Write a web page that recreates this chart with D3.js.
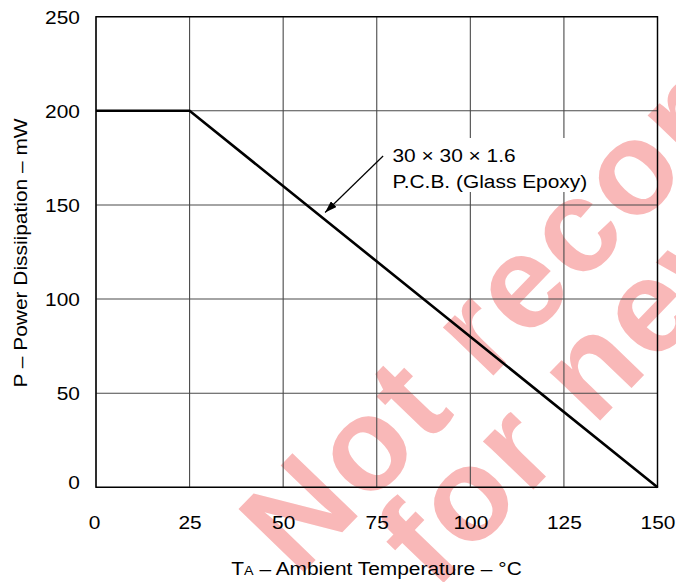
<!DOCTYPE html>
<html>
<head>
<meta charset="utf-8">
<script src="https://cdn.jsdelivr.net/npm/d3@7/dist/d3.min.js"></script>
<style>
  html, body { margin: 0; padding: 0; background: #fff; }
  svg { display: block; }
  text { font-family: "Liberation Sans", Arial, sans-serif; fill: #000; }
</style>
</head>
<body>
<svg id="chart" width="676" height="582"></svg>
<script>
// ---- data ----
const temps = [0, 25, 150];            // Ambient temperature, °C
const power = [200, 200, 0];           // Power dissipation, mW
const xTicks = [0, 25, 50, 75, 100, 125, 150];
const yTicks = [0, 50, 100, 150, 200, 250];
const noteLines = ["30 \u00d7 30 \u00d7 1.6", "P.C.B. (Glass Epoxy)"];
const arrowTail = [76.7, 176];         // data coords
const arrowTip = [61.2, 146];          // data coords
const watermark = ["Not recommended", "for new design"];

const svg = d3.select("#chart");
const x = d3.scaleLinear().domain([0, 150]).range([96, 657.5]);
const y = d3.scaleLinear().domain([0, 250]).range([487.3, 16.7]);
const SX = 1.1, FS = 19;

// ---- watermark ----
const wm = svg.append("g").attr("transform", "translate(721,140) rotate(-46)");
wm.selectAll("text").data(watermark).join("text")
  .attr("x", (d, i) => i * -30).attr("y", (d, i) => i * 108)
  .attr("text-anchor", "middle")
  .style("font-size", "132px").style("font-weight", "bold")
  .style("letter-spacing", "4px")
  .style("fill", "#f9b8b8")
  .text(d => d);

// ---- grid ----
const grid = svg.append("g");
grid.selectAll("line.v").data(xTicks).join("line").attr("class", "v")
  .attr("x1", d => x(d)).attr("x2", d => x(d))
  .attr("y1", y(0)).attr("y2", y(250))
  .attr("stroke", "#4a4a4a").attr("stroke-width", 1.1);
grid.selectAll("line.h").data(yTicks).join("line").attr("class", "h")
  .attr("x1", x(0)).attr("x2", x(150))
  .attr("y1", d => y(d)).attr("y2", d => y(d))
  .attr("stroke", "#4a4a4a").attr("stroke-width", 1.1);
svg.append("rect")
  .attr("x", x(0)).attr("y", y(250))
  .attr("width", x(150) - x(0)).attr("height", y(0) - y(250))
  .attr("fill", "none").attr("stroke", "#000").attr("stroke-width", 1.4);

// ---- axes labels (via d3 axes, lines hidden) ----
const xAxis = svg.append("g").attr("transform", `translate(0,${y(0)})`)
  .call(d3.axisBottom(x).tickValues(xTicks).tickSize(0).tickPadding(0));
xAxis.select(".domain").remove();
xAxis.selectAll(".tick").each(function(d) {
  d3.select(this).select("text")
    .attr("x", 0).attr("y", 0).attr("dy", null)
    .attr("text-anchor", "middle")
    .style("font-size", FS + "px")
    .attr("transform", `translate(${d === 0 ? -2 : 0},42) scale(${SX},1)`);
});

const yAxis = svg.append("g").attr("transform", `translate(80,0)`)
  .call(d3.axisLeft(y).tickValues(yTicks).tickSize(0).tickPadding(0));
yAxis.select(".domain").remove();
yAxis.selectAll(".tick").each(function(d) {
  d3.select(this).select("text")
    .attr("x", 0).attr("dy", "0.35em")
    .attr("transform", `translate(0,${d === 0 ? -5 : 0}) scale(${SX},1)`)
    .style("font-size", FS + "px").attr("text-anchor", "end");
});

// ---- data line ----
const line = d3.line().x((d, i) => x(temps[i])).y((d, i) => y(power[i]));
svg.append("path").datum(power)
  .attr("d", line).attr("fill", "none")
  .attr("stroke", "#000").attr("stroke-width", 2.6)
  .attr("stroke-linejoin", "miter");

// ---- annotation ----
svg.append("rect").attr("x", 388).attr("y", 138)
  .attr("width", 210).attr("height", 54).attr("fill", "#fff");
const note = svg.append("g");
note.selectAll("text").data(noteLines).join("text")
  .attr("transform", (d, i) => `translate(${x(79.2)},${y(172.9) + i * 26.5}) scale(${SX},1)`)
  .style("font-size", FS + "px")
  .text(d => d);

const defs = svg.append("defs");
defs.append("marker").attr("id", "arr")
  .attr("viewBox", "0 0 12 8").attr("refX", 12).attr("refY", 4)
  .attr("markerWidth", 12).attr("markerHeight", 8)
  .attr("markerUnits", "userSpaceOnUse").attr("orient", "auto")
  .append("path").attr("d", "M0,0 L12,4 L0,8 Z").attr("fill", "#000");
svg.append("line")
  .attr("x1", x(arrowTail[0])).attr("y1", y(arrowTail[1]))
  .attr("x2", x(arrowTip[0])).attr("y2", y(arrowTip[1]))
  .attr("stroke", "#000").attr("stroke-width", 1.2)
  .attr("marker-end", "url(#arr)");

// ---- axis titles ----
const xt = svg.append("text")
  .attr("transform", `translate(376.5,575) scale(${SX},1)`)
  .attr("text-anchor", "middle").style("font-size", FS + "px");
xt.append("tspan").text("T");
xt.append("tspan").style("font-size", "13px").text("A");
xt.append("tspan").text(" \u2013 Ambient Temperature \u2013 \u00b0C");

svg.append("text")
  .attr("transform", `translate(26.5,253) rotate(-90) scale(${SX},1)`)
  .attr("text-anchor", "middle").style("font-size", FS + "px")
  .text("P \u2013 Power Dissiipation \u2013 mW");
</script>
</body>
</html>
